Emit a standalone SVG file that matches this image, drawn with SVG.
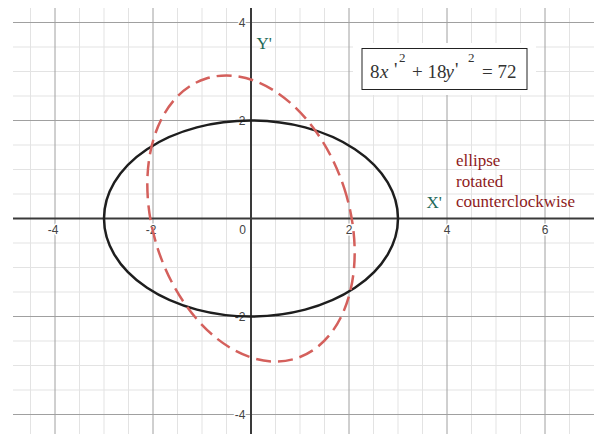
<svg xmlns="http://www.w3.org/2000/svg" width="594" height="434" viewBox="0 0 594 434">
<style>
.minor{stroke:#e3e3e3;stroke-width:1;fill:none}
.major{stroke:#a0a0a0;stroke-width:1;fill:none}
.axis{stroke:#3a3a3a;stroke-width:2;fill:none}
.tick{font-family:"Liberation Sans",Arial,sans-serif;font-size:12px;fill:#444;stroke:#fff;stroke-width:3px;paint-order:stroke;stroke-linejoin:round}
.axname{font-family:"Liberation Serif","Times New Roman",serif;font-size:17px;fill:#1f6a5a}
.note{font-family:"Liberation Serif","Times New Roman",serif;font-size:17px;fill:#8e1b1b}
.eq{font-family:"Liberation Serif","Times New Roman",serif;font-size:19px;fill:#333}
</style>
<rect width="594" height="434" fill="#fff"/>
<g id="grid">
<path class="minor" d="M30.5 8V434M79.5 8V434M104 8V434M128.5 8V434M177.5 8V434M202 8V434M226.5 8V434M275.5 8V434M300 8V434M324.5 8V434M373.5 8V434M398 8V434M422.5 8V434M471.5 8V434M496 8V434M520.5 8V434M569.5 8V434"/>
<path class="minor" d="M13 47H594M13 71.5H594M13 96H594M13 145H594M13 169.5H594M13 194H594M13 243H594M13 267.5H594M13 292H594M13 341H594M13 365.5H594M13 390H594"/>
<path class="major" d="M55 8V434M153 8V434M349 8V434M447 8V434M545 8V434M13 22.5H594M13 120.5H594M13 316.5H594M13 414.5H594"/>
</g>
<g id="axes">
<path class="axis" d="M13 218.5H594M251 8V434"/>
</g>
<g id="tick-labels">
<text class="tick" x="58.5" y="234" text-anchor="end">-4</text>
<text class="tick" x="156.5" y="234" text-anchor="end">-2</text>
<text class="tick" x="246" y="234" text-anchor="end">0</text>
<text class="tick" x="349" y="234" text-anchor="middle">2</text>
<text class="tick" x="447" y="234" text-anchor="middle">4</text>
<text class="tick" x="545" y="234" text-anchor="middle">6</text>
<text class="tick" x="245.5" y="27" text-anchor="end">4</text>
<text class="tick" x="245.5" y="125" text-anchor="end">2</text>
<text class="tick" x="245.5" y="321" text-anchor="end">-2</text>
<text class="tick" x="245.5" y="419" text-anchor="end">-4</text>
</g>
<g id="ellipse-original">
<ellipse cx="251" cy="218.5" rx="147" ry="98" fill="none" stroke="#1e1e1e" stroke-width="2.5"/>
</g>
<g id="ellipse-rotated">
<ellipse cx="251" cy="218.5" rx="98" ry="147" transform="rotate(-18 251 218.5)" fill="none" stroke="#d4605c" stroke-width="2.5" stroke-dasharray="15 7"/>
</g>
<g id="axis-names">
<text class="axname" x="256.5" y="48.5">Y'</text>
<text class="axname" x="426.5" y="207.5">X'</text>
</g>
<g id="equation">
<rect x="353" y="43" width="183" height="52" fill="#fff"/>
<rect x="362" y="48.5" width="165" height="41" fill="#fff" stroke="#222" stroke-width="1"/>
<text class="eq" y="77.5"><tspan x="370">8</tspan><tspan x="380" font-style="italic">x</tspan><tspan x="394" dy="-2">'</tspan><tspan x="399" font-size="13" dy="-14">2</tspan><tspan x="412" dy="16">+ 18</tspan><tspan x="445.5" font-style="italic">y</tspan><tspan x="455" dy="-2">'</tspan><tspan x="468" font-size="13" dy="-14">2</tspan><tspan x="482" dy="16">= 72</tspan></text>
</g>
<g id="annotation">
<text class="note" x="456" y="165.5">ellipse</text>
<text class="note" x="456" y="186.5">rotated</text>
<text class="note" x="456" y="207">counterclockwise</text>
</g>
</svg>
